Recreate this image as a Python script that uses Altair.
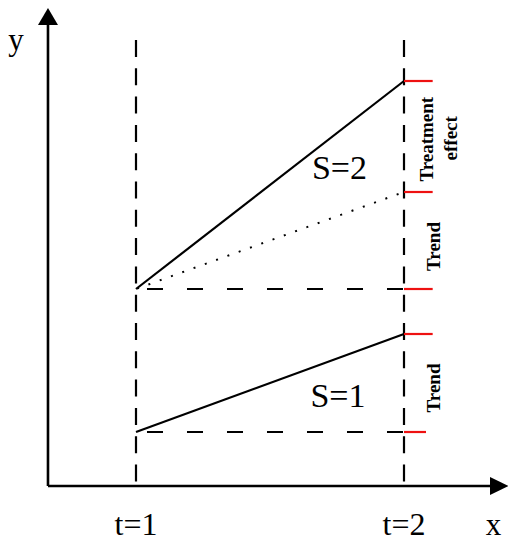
import altair as alt
import pandas as pd

# ---- data (conceptual units: x = period, y = outcome level) ----
t_values = [1, 2]
t_labels = ["t=1", "t=2"]
s1_outcome = [0.54, 1.52]          # S=1 group, t=1 -> t=2
s2_outcome = [1.97, 4.05]          # S=2 group, t=1 -> t=2
s2_counterfactual = [1.97, 2.94]   # S=2 trend without treatment (dotted)
baseline_levels = [1.97, 0.54]     # horizontal dashed reference levels
red_tick_levels = [4.05, 2.94, 1.97, 1.52, 0.54]
red_tick_ends = [2.107, 2.107, 2.107, 2.107, 2.082]

axis_origin = [0.6716, 0.0]
x_axis_end = 2.3209
y_axis_end = 4.61
x_arrow_center = [2.3554, 0.0]
y_arrow_center = [0.6716, 4.695]
vline_top = 4.46

bracket_texts = ["Treatment", "effect", "Trend", "Trend"]
bracket_x = [2.1093, 2.1989, 2.1343, 2.1343]
bracket_y = [3.468, 3.477, 2.395, 0.98]

group_texts = ["S=2", "S=1"]
group_x = [1.7593, 1.7537]
group_y = [3.07, 0.793]

axis_titles = ["y", "x"]
axis_title_x = [0.5522, 2.334]
axis_title_y = [4.36, -0.49]
t_label_y = -0.49

X_DOMAIN = [0.52239, 2.38806]
Y_DOMAIN = [-0.56, 4.78]
FONT = "Liberation Serif"

xs = alt.Scale(domain=X_DOMAIN, nice=False, zero=False)
ys = alt.Scale(domain=Y_DOMAIN, nice=False, zero=False)


def X(f="x"):
    return alt.X(f, type="quantitative", scale=xs, axis=None)


def Y(f="y"):
    return alt.Y(f, type="quantitative", scale=ys, axis=None)


# axes lines
axes_df = pd.DataFrame({
    "x": [axis_origin[0], axis_origin[0]],
    "x2": [axis_origin[0], x_axis_end],
    "y": [axis_origin[1], axis_origin[1]],
    "y2": [y_axis_end, axis_origin[1]],
})
axes = alt.Chart(axes_df).mark_rule(color="black", strokeWidth=2.6).encode(
    x=X(), x2="x2", y=Y(), y2="y2")

up_arrow = alt.Chart(pd.DataFrame({"x": [y_arrow_center[0]], "y": [y_arrow_center[1]]})).mark_point(
    shape="M0,-1L1.176,1L-1.176,1Z", size=289, filled=True, color="black", opacity=1, strokeWidth=0
).encode(x=X(), y=Y())

right_arrow = alt.Chart(pd.DataFrame({"x": [x_arrow_center[0]], "y": [x_arrow_center[1]]})).mark_point(
    shape="M1,0L-1,-0.973L-1,0.973Z", size=342, filled=True, color="black", opacity=1, strokeWidth=0
).encode(x=X(), y=Y())

# vertical dashed lines at t=1 and t=2
vdf = pd.DataFrame({"x": t_values, "y": [vline_top] * 2, "y2": [0.0] * 2})
vlines = alt.Chart(vdf).mark_rule(color="black", strokeWidth=2.2, strokeDash=[17, 11.3]).encode(
    x=X(), y=Y(), y2="y2")

# horizontal dashed reference levels
hdf = pd.DataFrame({"x": [t_values[0]] * 2, "x2": [t_values[1]] * 2, "y": baseline_levels})
hlines = alt.Chart(hdf).mark_rule(color="black", strokeWidth=2.2, strokeDash=[16, 24],
                                   strokeDashOffset=29).encode(x=X(), x2="x2", y=Y())

# solid group lines
ldf = pd.DataFrame({
    "x": t_values + t_values,
    "y": s1_outcome + s2_outcome,
    "g": ["S=1"] * 2 + ["S=2"] * 2,
})
lines = alt.Chart(ldf).mark_line(color="black", strokeWidth=2.2).encode(
    x=X(), y=Y(), detail="g:N")

# dotted counterfactual
ddf = pd.DataFrame({"x": t_values, "y": s2_counterfactual})
dotted = alt.Chart(ddf).mark_line(color="black", strokeWidth=2, strokeDash=[2, 10],
                                  strokeDashOffset=10.8).encode(x=X(), y=Y())

# red ticks
rdf = pd.DataFrame({"x": [t_values[1]] * len(red_tick_levels), "x2": red_tick_ends, "y": red_tick_levels})
red = alt.Chart(rdf).mark_rule(color="#ee1111", strokeWidth=2.2).encode(x=X(), x2="x2", y=Y())

# texts
bdf = pd.DataFrame({"x": bracket_x, "y": bracket_y, "t": bracket_texts})
btext = alt.Chart(bdf).mark_text(font=FONT, fontSize=19, fontWeight="bold", angle=270,
                                 align="center", baseline="alphabetic", color="black").encode(
    x=X(), y=Y(), text="t:N")

gdf = pd.DataFrame({"x": group_x, "y": group_y, "t": group_texts})
gtext = alt.Chart(gdf).mark_text(font=FONT, fontSize=34, align="center", baseline="alphabetic",
                                 color="black").encode(x=X(), y=Y(), text="t:N")

tdf = pd.DataFrame({"x": t_values, "y": [t_label_y] * 2, "t": t_labels})
ttext = alt.Chart(tdf).mark_text(font=FONT, fontSize=32, align="center", baseline="alphabetic",
                                 color="black").encode(x=X(), y=Y(), text="t:N")

adf = pd.DataFrame({"x": axis_title_x, "y": axis_title_y, "t": axis_titles})
atext = alt.Chart(adf).mark_text(font=FONT, fontSize=31, align="center", baseline="alphabetic",
                                 color="black").encode(x=X(), y=Y(), text="t:N")

chart = alt.layer(
    vlines, hlines, dotted, lines, red, axes, up_arrow, right_arrow,
    btext, gtext, ttext, atext
).properties(
    width=500, height=534, autosize=alt.AutoSizeParams(type="none"), padding=0,
    background="white"
).configure_view(stroke=None)

chart.save("out.html", embed_options={"renderer": "svg", "actions": False})
